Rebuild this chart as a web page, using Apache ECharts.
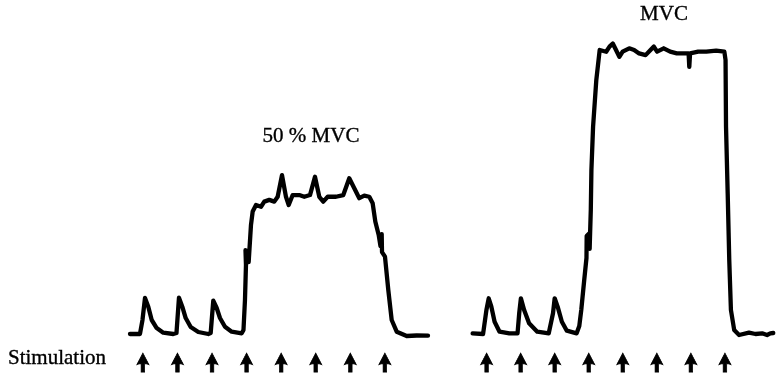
<!DOCTYPE html>
<html>
<head>
<meta charset="utf-8">
<script src="https://cdn.jsdelivr.net/npm/echarts@6/dist/echarts.min.js"></script>
<style>
  html, body { margin: 0; padding: 0; background: #fff; }
  #chart { width: 776px; height: 379px; }
</style>
</head>
<body>
<div id="chart"></div>
<script>
// Force traces (time in stimulation periods, force in % of MVC)
const submaxTime = [-0.373, -0.084, -0.012, 0.061, 0.156, 0.255, 0.399, 0.590, 0.879, 0.972,
  1.044, 1.140, 1.238, 1.383, 1.603, 1.892, 1.961, 2.036, 2.135, 2.230, 2.375, 2.569, 2.858,
  2.910, 2.953, 2.982, 2.968, 3.069, 3.060, 3.127, 3.176, 3.272, 3.416, 3.512, 3.656, 3.801,
  3.899, 4.024, 4.139, 4.218, 4.333, 4.524, 4.669, 4.834, 4.978, 5.103, 5.218, 5.346, 5.586,
  5.797, 5.970, 6.115, 6.260, 6.404, 6.549, 6.647, 6.723, 6.821, 6.873, 6.908, 6.917, 7.003,
  7.099, 7.197, 7.342, 7.631, 7.920, 8.247];
const submaxForce = [-0.35, -0.35, 4.56, 12.28, 9.23, 4.56, 1.75, 0.11, -0.35, 0.0,
  12.39, 9.23, 5.26, 2.11, 0.35, -0.35, 0.0, 11.33, 8.77, 5.26, 2.21, 0.46, -0.11,
  1.05, 11.58, 23.9, 29.1, 28.1, 24.9, 37.9, 42.6, 44.9, 44.3, 46.1, 46.7, 46.1,
  47.8, 55.4, 47.8, 44.9, 48.4, 48.4, 47.8, 48.4, 54.8, 47.8, 46.1, 47.8, 47.8,
  48.4, 54.3, 50.8, 47.3, 48.2, 47.8, 45.5, 39.1, 34.4, 30.5, 34.7, 28.4, 26.8,
  15.1, 4.56, 0.46, -1.05, -0.88, -0.95];

const maxTime = [-0.411, -0.104, -0.006, 0.061, 0.139, 0.234, 0.379, 0.668, 0.908, 0.957,
  1.007, 1.102, 1.247, 1.487, 1.825, 1.950, 1.999, 2.086, 2.210, 2.355, 2.644, 2.722, 2.780,
  2.867, 2.933, 2.939, 3.026, 3.026, 3.060, 3.078, 3.127, 3.222, 3.321, 3.367, 3.512, 3.610,
  3.706, 3.801, 3.899, 3.995, 4.189, 4.333, 4.478, 4.669, 4.814, 4.912, 5.007, 5.201, 5.392,
  5.586, 5.826, 5.933, 5.953, 5.976, 6.213, 6.453, 6.742, 6.983, 7.018, 7.032, 7.081, 7.127,
  7.176, 7.272, 7.416, 7.706, 7.899, 8.093, 8.237, 8.333, 8.42];
const maxForce = [-0.11, -0.35, 8.07, 12.18, 9.23, 3.96, 0.46, -0.11, -0.11, 6.91,
  12.18, 8.07, 3.40, 0.46, -0.11, 6.91, 12.18, 9.23, 3.96, 0.81, -0.11, 2.46, 8.07,
  18.6, 26.3, 34.0, 35.1, 29.5, 43.2, 57.2, 72.4, 88.8, 99.3, 99.9, 98.7, 100.5,
  101.6, 99.3, 96.9, 98.7, 99.9, 99.3, 98.1, 97.5, 99.3, 100.5, 98.7, 99.9, 98.7,
  98.1, 98.1, 98.1, 93.4, 98.1, 98.7, 98.7, 99.1, 98.7, 95.8, 72.4, 49.0, 25.6,
  8.07, 1.05, -0.70, 0.11, -0.35, -0.11, -0.70, -0.11, 0.0];

// Stimulus delivery times (same in both contractions)
const stimTimes = [0, 1, 2, 3, 4, 5, 6, 7];

const panelTitles = ['50 % MVC', 'MVC'];
const rowLabel = 'Stimulation';

// ---- layout ----
const pxPerPeriod = 34.57;
const tMin = -0.5, tMax = 8.5;
const fMin = -16, fMax = 110;
const plotTop = 19.5;
const plotHeight = (fMax - fMin) * 2.85;
const panelWidth = (tMax - tMin) * pxPerPeriod;
const panelLefts = [125.6, 469.6];
const stimRow = -10.35;

const serif = '"Liberation Serif", "Times New Roman", serif';
// upward arrow: broad filled head with a short, thick stem
const arrowPath = 'path://M6,0 L12,11 Q9.5,10 7.8,10 L7.8,18 L4.2,18 L4.2,10 Q2.5,10 0,11 Z';

const zip = (a, b) => a.map((v, i) => [v, b[i]]);

const traces = [zip(submaxTime, submaxForce), zip(maxTime, maxForce)];

const textStyle = (txt, align) => ({
  text: txt, font: '21px ' + serif, fill: '#000',
  stroke: '#000', lineWidth: 0.35,
  align: align, verticalAlign: 'middle'
});

const option = {
  animation: false,
  backgroundColor: '#ffffff',
  grid: panelLefts.map(l => ({
    left: l, top: plotTop, width: panelWidth, height: plotHeight,
    containLabel: false
  })),
  xAxis: panelLefts.map((_, i) => ({
    type: 'value', gridIndex: i, min: tMin, max: tMax, show: false
  })),
  yAxis: panelLefts.map((_, i) => ({
    type: 'value', gridIndex: i, min: fMin, max: fMax, show: false
  })),
  series: [
    ...traces.map((d, i) => ({
      type: 'line', xAxisIndex: i, yAxisIndex: i,
      data: d, showSymbol: false, symbol: 'none', smooth: false,
      clip: false,
      lineStyle: { color: '#000', width: 4.3, join: 'round', cap: 'round' }
    })),
    ...traces.map((_, i) => ({
      type: 'scatter', xAxisIndex: i, yAxisIndex: i,
      data: stimTimes.map(t => [t, stimRow]),
      symbol: arrowPath, symbolSize: [12, 19], symbolKeepAspect: false,
      itemStyle: { color: '#000', opacity: 1, borderColor: '#000', borderWidth: 0.8 },
      emphasis: { disabled: true }, silent: true
    }))
  ],
  graphic: [
    { type: 'text', x: 311, y: 136, style: textStyle(panelTitles[0], 'center') },
    { type: 'text', x: 664, y: 14, style: textStyle(panelTitles[1], 'center') },
    { type: 'text', x: 8, y: 358, style: textStyle(rowLabel, 'left') }
  ]
};

const chart = echarts.init(document.getElementById('chart'), null, { renderer: 'canvas' });
chart.setOption(option);
</script>
</body>
</html>
